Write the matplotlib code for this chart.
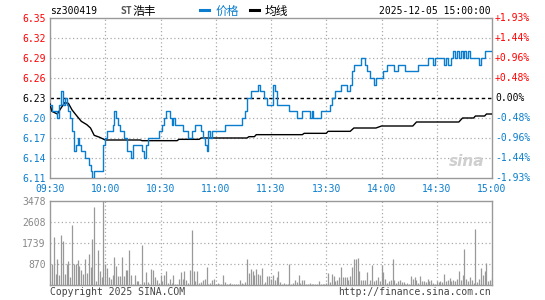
import matplotlib
matplotlib.use('Agg')
import matplotlib.pyplot as plt
from matplotlib.lines import Line2D

# 分时数据 (minute index from 09:30, lunch break removed)
price_min = [0, 1, 4, 5, 6, 7, 8, 9, 10, 11, 12, 13, 14, 15, 16, 17, 19, 21, 22, 23, 24, 29, 30, 31, 34,
             35, 36, 37, 38, 40, 42, 44, 45, 50, 51, 52, 53, 59, 61, 62, 63, 65, 66, 67, 68, 72, 75, 77,
             79, 82, 83, 84, 85, 86, 87, 88, 95, 104, 106, 107, 109, 113, 114, 116, 118, 121, 122, 123,
             130, 134, 137, 141, 142, 143, 147, 152, 153, 155, 158, 161, 163, 164, 165, 169, 171, 172,
             174, 176, 177, 181, 183, 187, 189, 193, 200, 205, 208, 209, 214, 215, 216, 218, 219, 220,
             221, 222, 223, 224, 225, 226, 227, 228, 233, 234, 236, 240]
price_val = [6.22, 6.21, 6.20, 6.22, 6.24, 6.22, 6.23, 6.22, 6.21, 6.20, 6.18, 6.15, 6.16, 6.17, 6.16,
             6.15, 6.14, 6.13, 6.12, 6.11, 6.12, 6.16, 6.17, 6.18, 6.19, 6.21, 6.20, 6.19, 6.18, 6.17,
             6.15, 6.14, 6.16, 6.15, 6.14, 6.16, 6.17, 6.18, 6.19, 6.20, 6.21, 6.20, 6.19, 6.20, 6.19,
             6.18, 6.17, 6.18, 6.19, 6.18, 6.17, 6.16, 6.15, 6.18, 6.17, 6.18, 6.19, 6.20, 6.21, 6.23,
             6.24, 6.25, 6.24, 6.23, 6.22, 6.25, 6.24, 6.22, 6.21, 6.20, 6.21, 6.20, 6.21, 6.20, 6.21,
             6.22, 6.23, 6.24, 6.25, 6.24, 6.25, 6.27, 6.28, 6.29, 6.28, 6.27, 6.26, 6.25, 6.26, 6.27,
             6.28, 6.27, 6.28, 6.27, 6.28, 6.29, 6.28, 6.29, 6.28, 6.29, 6.28, 6.29, 6.30, 6.29, 6.30,
             6.29, 6.30, 6.29, 6.30, 6.29, 6.30, 6.29, 6.28, 6.29, 6.30, 6.30]

avg_min = [0, 1, 4, 6, 8, 10, 12, 14, 17, 20, 22, 24, 27, 30, 49, 50, 69, 70, 81, 82, 107, 108, 111,
           112, 137, 138, 150, 151, 163, 165, 177, 180, 197, 199, 222, 224, 230, 231, 236, 237, 240]
avg_val = [6.221, 6.210, 6.206, 6.215, 6.223, 6.222, 6.212, 6.205, 6.195, 6.190, 6.185, 6.174, 6.171,
           6.167, 6.167, 6.166, 6.166, 6.168, 6.168, 6.170, 6.170, 6.172, 6.172, 6.175, 6.175, 6.177,
           6.177, 6.180, 6.180, 6.185, 6.185, 6.188, 6.188, 6.194, 6.194, 6.200, 6.200, 6.203, 6.203,
           6.206, 6.206]

volume = [180, 880, 2000, 470, 1090, 430, 2080, 1830, 470, 870, 1000, 320, 2490, 880, 880, 1040, 800,
          630, 450, 1090, 500, 1290, 730, 1910, 3245, 150, 1430, 600, 330, 3478, 880, 700, 320, 260,
          430, 1140, 770, 390, 360, 1180, 360, 630, 630, 1430, 430, 55, 400, 150, 150, 55, 1660, 110,
          520, 110, 55, 670, 630, 320, 220, 80, 430, 150, 430, 560, 80, 260, 80, 430, 55, 55, 260,
          520, 260, 560, 220, 80, 630, 2280, 590, 150, 560, 80, 120, 220, 260, 740, 55, 80, 190, 260,
          55, 80, 55, 55, 430, 110, 40, 30, 80, 30, 40, 30, 30, 220, 80, 40, 110, 1090, 500, 670, 600,
          430, 660, 470, 430, 700, 55, 110, 360, 360, 260, 430, 220, 320, 560, 120, 55, 80, 55, 40,
          880, 40, 80, 220, 120, 430, 80, 190, 190, 30, 55, 80, 40, 40, 55, 40, 150, 55, 40, 30, 80,
          500, 110, 450, 360, 150, 220, 320, 740, 320, 330, 330, 220, 360, 740, 1070, 1090, 1110,
          560, 220, 190, 220, 540, 55, 190, 840, 150, 220, 330, 150, 840, 540, 260, 80, 150, 190,
          1090, 220, 80, 150, 190, 110, 110, 40, 80, 55, 360, 260, 330, 220, 80, 360, 180, 150, 110,
          260, 150, 220, 80, 55, 150, 120, 150, 110, 470, 150, 220, 290, 150, 220, 150, 260, 590,
          220, 430, 1500, 260, 180, 320, 220, 80, 2310, 120, 260, 700, 430, 560, 910, 150, 200, 300]

prev_close = 6.23
price_ticks = [6.11, 6.14, 6.17, 6.20, 6.23, 6.26, 6.29, 6.32, 6.35]
pct_labels = ['-1.93%', '-1.44%', '-0.96%', '-0.48%', '0.00%', '+0.48%', '+0.96%', '+1.44%', '+1.93%']
time_ticks = [0, 30, 60, 90, 120, 150, 180, 210, 240]
time_labels = ['09:30', '10:00', '10:30', '11:00', '11:30', '13:30', '14:00', '14:30', '15:00']
vol_ticks = [870, 1739, 2608, 3478]

BLUE = '#0A7DCF'
RED = '#FF0000'
GRID = '#AAAAAA'
FRAME = '#999999'
MONO = ['DejaVu Sans Mono', 'Noto Sans CJK SC']
W, H = 545, 300

fig = plt.figure(figsize=(W / 100, H / 100), dpi=100, facecolor='white')
ax = fig.add_axes([50 / W, 1 - 178 / H, 442 / W, 160 / H])
axv = fig.add_axes([50 / W, 1 - 285 / H, 442 / W, 84 / H])

# price panel
for t in time_ticks[1:-1]:
    ax.axvline(t, color=GRID, lw=0.9, ls=(0, (1, 2)), zorder=1)
for p in price_ticks[1:-1]:
    if p == prev_close:
        ax.axhline(p, color='black', lw=1.0, ls=(0, (2.5, 2)), zorder=1)
    else:
        ax.axhline(p, color=GRID, lw=0.9, ls=(0, (1, 2)), zorder=1)

# watermark, placed in axes fraction
ax.text(0.943, 0.10, 'sina', transform=ax.transAxes, color='#CFCFCF', fontsize=11,
        fontstyle='italic', fontweight='bold', ha='center', va='center', zorder=2)

ax.plot(avg_min, avg_val, color='black', lw=1.0, zorder=3)
ax.plot(price_min, price_val, color=BLUE, lw=1.0, drawstyle='steps-post', zorder=4)

ax.set_xlim(0, 240)
ax.set_ylim(6.11, 6.35)
ax.set_yticks(price_ticks)
ax.set_yticklabels([f'{p:.2f}' for p in price_ticks], family=MONO, fontsize=7)
for lab, p in zip(ax.get_yticklabels(), price_ticks):
    lab.set_color('black' if p == prev_close else (RED if p > prev_close else BLUE))
for p, s in zip(price_ticks, pct_labels):
    c = 'black' if p == prev_close else (RED if p > prev_close else BLUE)
    ax.text(1.007, p, s, transform=ax.get_yaxis_transform(), ha='left', va='center',
            color=c, family=MONO, fontsize=7)
ax.set_xticks(time_ticks)
ax.set_xticklabels(time_labels, family=MONO, fontsize=7, color=BLUE)
ax.tick_params(length=0, pad=3)
ax.tick_params(axis='x', pad=4.5)
for sp in ax.spines.values():
    sp.set_color(FRAME)
    sp.set_linewidth(1)

# volume panel
for t in time_ticks[1:-1]:
    axv.axvline(t, color=GRID, lw=0.9, ls=(0, (1, 2)), zorder=1)
for v in vol_ticks[:-1]:
    axv.axhline(v, color=GRID, lw=0.9, ls=(0, (1, 2)), zorder=1)
axv.vlines(range(len(volume)), 0, volume, color='#999999', lw=0.9, zorder=2)
axv.set_xlim(0, 240)
axv.set_ylim(0, 3478)
axv.set_xticks([])
axv.set_yticks(vol_ticks)
axv.set_yticklabels([str(v) for v in vol_ticks], family=MONO, fontsize=7, color='#888888')
axv.tick_params(length=0, pad=3)
for sp in axv.spines.values():
    sp.set_color(FRAME)
    sp.set_linewidth(1)

# header
def fx(px):
    return px / W

def fy(py):
    return 1 - py / H

fig.text(fx(50), fy(11), 'sz300419', family=MONO, fontsize=7, va='center', ha='left')
fig.text(fx(120), fy(11.5), 'ST', family=MONO, fontsize=7, va='center', ha='left',
         color='#555555', fontweight='bold')
fig.text(fx(132.5), fy(11.5), '浩丰', family=MONO, fontsize=8.5, va='center', ha='left')
fig.add_artist(Line2D([fx(200), fx(209)], [fy(9.5), fy(9.5)], color=BLUE, lw=2.2))
fig.text(fx(216), fy(11.5), '价格', family=MONO, fontsize=8.5, va='center', ha='left', color=BLUE)
fig.add_artist(Line2D([fx(250), fx(259)], [fy(9.5), fy(9.5)], color='black', lw=2.2))
fig.text(fx(265), fy(11.5), '均线', family=MONO, fontsize=8.5, va='center', ha='left')
fig.text(fx(491), fy(11), '2025-12-05 15:00:00', family=MONO, fontsize=7, va='center', ha='right')

# footer
fig.text(fx(50), fy(292), 'Copyright 2025 SINA.COM', family=MONO, fontsize=7, va='center',
         ha='left', color='#444444')
fig.text(fx(491), fy(292), 'http://finance.sina.com.cn', family=MONO, fontsize=7, va='center',
         ha='right', color='#444444')

fig.savefig('out.png', dpi=100, facecolor='white')
